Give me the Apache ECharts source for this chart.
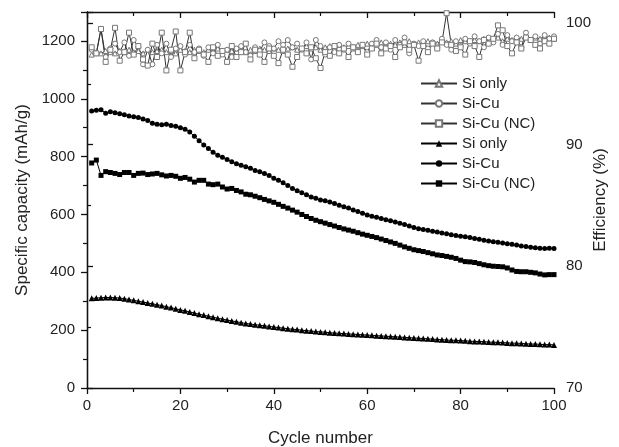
<!DOCTYPE html>
<html><head><meta charset="utf-8">
<script src="https://cdn.jsdelivr.net/npm/echarts@6/dist/echarts.min.js"></script>
<style>html,body{margin:0;padding:0;background:#fff}#c{width:619px;height:447px}</style>
</head><body><div id="c"></div>
<script>
const cycles = Array.from({length:100},(_,i)=>i+1);
const legendLabels = ['Si only','Si-Cu','Si-Cu (NC)','Si only','Si-Cu','Si-Cu (NC)'];
const capSi = [310,311,312,313,313,312,311,309,306,303, 300,297,294,291,288,285,281,278,274,270, 267,263,259,255,252,248,245,241,238,235, 232,229,226,223,221,219,217,215,213,211, 209,207,205,203,202,200,198,197,195,194, 193,191,190,189,188,187,186,185,184,183, 182,181,180,179,178,177,176,175,174,173, 172,171,170,169,168,167,166,165,165,164, 163,162,161,161,160,159,158,158,157,156, 155,155,154,153,152,152,151,150,150,149];
const capCu = [958,960,962,950,955,952,948,945,940,938, 935,930,925,915,912,910,912,908,905,900, 895,885,870,855,840,828,815,805,798,790, 782,775,770,765,760,752,748,742,735,725, 718,710,700,690,682,675,668,660,656,650, 647,643,638,632,627,622,615,610,604,598, 594,590,586,582,578,574,570,565,560,555, 551,548,545,542,539,536,533,530,527,525, 523,520,517,514,511,508,506,504,501,499, 497,494,491,489,487,485,483,482,483,482];
const capNC = [778,788,735,748,745,742,738,745,745,735, 742,743,738,740,742,737,733,735,732,725, 728,722,712,718,718,705,703,705,695,688, 690,683,678,670,668,663,658,652,647,642, 635,628,622,615,608,600,593,586,580,575, 570,565,560,555,550,546,542,537,532,528, 524,520,515,510,505,500,494,488,483,478, 475,472,468,464,460,458,455,452,448,442, 437,436,434,430,426,423,421,420,419,415, 408,403,402,402,400,398,394,391,392,392];
const effSi = [97.4,97.6,97.5,97.7,97.6,97.5,97.7,97.6,97.8,97.6, 97.7,97.5,97.8,97.6,97.7,97.8,97.6,97.7,97.5,97.8, 97.7,97.6,97.8,97.7,97.6,97.8,97.7,97.9,97.6,97.8, 97.7,97.9,97.8,97.6,97.8,97.7,97.9,97.8,97.7,97.9, 97.8,97.7,97.9,98.0,97.8,97.9,98.1,97.9,98.0,97.8, 98.0,98.1,97.9,98.2,98.0,98.1,97.9,98.2,98.1,98.3, 98.0,98.2,98.4,98.1,98.3,98.2,98.4,98.2,98.5,98.3, 98.4,98.2,98.5,98.4,98.3,98.6,98.4,98.5,98.3,98.6, 98.5,98.4,98.6,98.5,98.7,98.4,98.6,98.8,98.5,98.7, 98.6,98.8,98.7,98.9,98.6,98.8,98.7,98.9,98.8,98.7];
const effCu = [97.8,97.5,99.5,97.2,97.9,98.3,97.6,98.4,97.3,98.6, 98.0,96.6,97.8,96.6,98.2,97.5,98.3,97.2,97.9,98.1, 97.4,98.2,97.6,97.9,97.3,98.0,97.5,98.2,97.4,97.8, 97.2,97.9,98.1,97.6,97.3,98.0,97.7,98.4,98.1,97.9, 98.5,98.2,98.6,98.0,98.3,97.8,98.4,97.0,98.6,98.1, 97.4,98.0,97.6,98.2,97.8,98.3,98.0,97.7,98.1,97.6, 98.3,98.6,98.0,98.4,97.8,98.6,98.2,98.8,97.5,98.3, 98.1,98.5,97.9,98.4,98.0,98.7,98.2,97.8,98.5,98.1, 98.7,98.3,98.9,98.5,98.0,98.8,98.4,99.1,98.2,99.0, 98.5,98.8,98.0,99.2,98.6,98.9,98.3,99.0,98.7,98.9];
const effNC = [98.0,97.5,99.5,96.8,97.8,99.6,96.9,97.6,99.2,97.4, 98.1,97.0,96.5,98.3,97.2,99.2,96.1,97.8,99.3,96.1, 97.6,99.2,97.1,97.8,97.4,96.8,98.0,97.3,97.7,96.8, 98.1,97.2,97.6,98.3,97.0,97.8,97.4,96.8,97.9,97.3, 96.7,97.8,97.4,96.4,97.2,97.9,97.5,98.0,97.1,96.3, 97.6,97.3,98.1,97.5,97.9,97.2,98.0,97.6,98.2,97.4, 97.9,98.3,97.5,97.9,98.1,97.2,98.0,98.4,97.8,98.2, 96.9,98.1,97.6,98.3,97.9,98.4,100.8,98.2,97.7,98.0, 97.4,98.5,98.1,97.2,98.6,98.3,98.7,99.8,99.4,98.1, 97.5,98.4,97.9,98.8,98.6,98.2,97.9,98.5,98.3,98.7];
const xTicks = [0,20,40,60,80,100];
const leftTicks = [0,200,400,600,800,1000,1200];
const rightTicks = [70,80,90,100];

const pair = arr => cycles.map((c,i)=>[c,arr[i]]);
const F = 'Liberation Sans, Arial, sans-serif';
const tickStyle = {color:'#111',width:1.3};
function axisBase(labelMargin){
  return {
    axisLine:{show:true,lineStyle:{color:'#111',width:1.3}},
    axisTick:{show:true,length:6,inside:false,lineStyle:tickStyle},
    minorTick:{show:true,splitNumber:2,length:4,lineStyle:{color:'#111',width:1.2}},
    splitLine:{show:false},
    axisLabel:{color:'#222',fontSize:15,fontFamily:F,margin:labelMargin}
  };
}
function effSeries(name, data, symbol, size){
  return {name, type:'line', yAxisIndex:1, data:pair(data), symbol, symbolSize:size,
    lineStyle:{color:'#333',width:1}, itemStyle:{color:'#fff',borderColor:'#777',borderWidth:1},
    emphasis:{disabled:true}, z:3};
}
function capSeries(name, data, symbol, size){
  return {name, type:'line', yAxisIndex:0, data:pair(data), symbol, symbolSize:size,
    lineStyle:{color:'#000',width:1}, itemStyle:{color:'#000',borderColor:'#000',borderWidth:0},
    emphasis:{disabled:true}, z:4};
}
const names = ['e1','e2','e3','c1','c2','c3'];
const xb = axisBase(10), yl = axisBase(12), yr = axisBase(12);
const chart = echarts.init(document.getElementById('c'));
chart.setOption({
  animation:false,
  backgroundColor:'#fff',
  grid:{left:87,right:65,top:12,bottom:59,containLabel:false,outerBoundsMode:'none'},
  legend:{
    data:names, orient:'vertical', left:415, top:71, itemWidth:36, itemHeight:8, itemGap:5,
    formatter: n => legendLabels[names.indexOf(n)],
    textStyle:{fontSize:15,fontFamily:F,color:'#222'}
  },
  xAxis:[
    Object.assign(xb, {type:'value',min:0,max:100,interval:20,position:'bottom',
      name:'Cycle number',nameLocation:'middle',nameGap:42,
      nameTextStyle:{fontSize:17,fontFamily:F,color:'#222'},
      axisLabel:Object.assign(xb.axisLabel,{formatter:v=>xTicks.includes(v)?String(v):''})}),
    {type:'value',min:0,max:100,interval:20,position:'top',
      axisLine:{show:true,lineStyle:{color:'#111',width:1.3}},
      axisTick:{show:true,inside:true,length:6,lineStyle:tickStyle},
      minorTick:{show:true,splitNumber:2,length:4,lineStyle:{color:'#111',width:1.2}},
      axisLabel:{show:false},splitLine:{show:false}}
  ],
  yAxis:[
    Object.assign(yl, {type:'value',min:0,max:1300,interval:200,position:'left',
      name:'Specific capacity (mAh/g)',nameLocation:'middle',nameGap:54,nameRotate:90,
      nameTextStyle:{fontSize:17,fontFamily:F,color:'#222'},
      axisLabel:Object.assign(yl.axisLabel,{formatter:v=>leftTicks.includes(v)?String(v):''})}),
    Object.assign(yr, {type:'value',min:70,max:100.9,interval:10,position:'right',
      name:'Efficiency (%)',nameLocation:'middle',nameGap:38,nameRotate:90,nameMoveOverlap:false,
      nameTextStyle:{fontSize:17,fontFamily:F,color:'#222'},
      axisLabel:Object.assign(yr.axisLabel,{formatter:v=>rightTicks.includes(v)?String(v):''})})
  ],
  series:[
    effSeries('e1',effSi,'triangle',5),
    effSeries('e2',effCu,'circle',5),
    effSeries('e3',effNC,'rect',5),
    capSeries('c1',capSi,'triangle',6),
    capSeries('c2',capCu,'circle',5),
    capSeries('c3',capNC,'rect',5)
  ]
});
</script></body></html>
